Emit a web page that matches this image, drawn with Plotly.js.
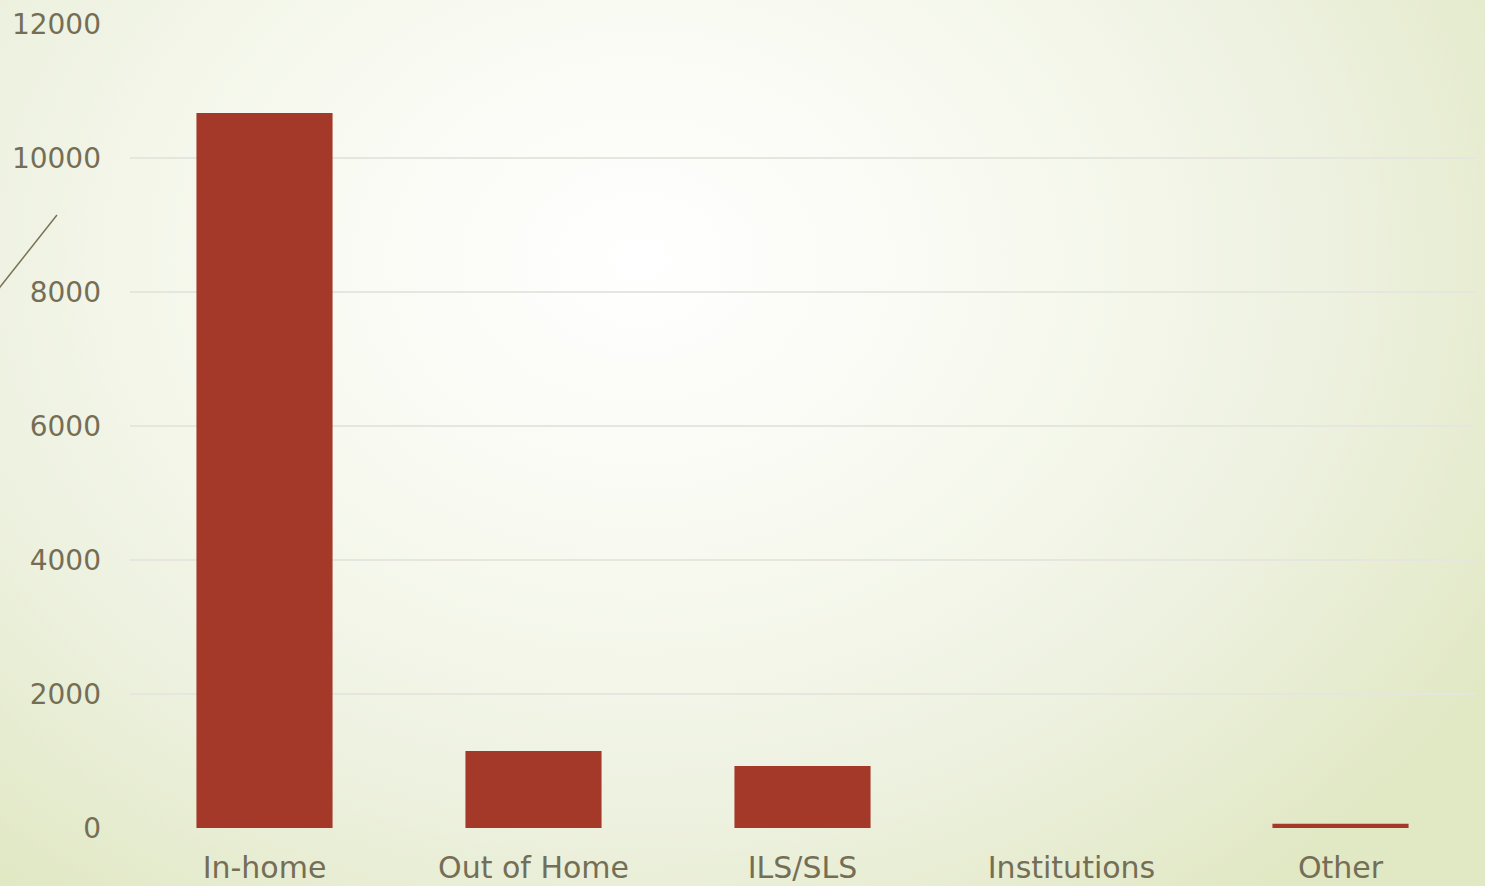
<!DOCTYPE html>
<html>
<head>
<meta charset="utf-8">
<script src="https://cdn.plot.ly/plotly-3.0.1.min.js"></script>
<style>
  html, body { margin: 0; padding: 0; width: 1485px; height: 886px; overflow: hidden; }
  body { background: radial-gradient(ellipse 1000px 800px at 640px 260px, #ffffff 0%, #f7f9ef 40%, #edf1df 70%, #e1e8c4 100%); }
  #chart { width: 1485px; height: 886px; }
</style>
</head>
<body>
<div id="chart"></div>
<script>
const categories = ["In-home", "Out of Home", "ILS/SLS", "Institutions", "Other"];
const counts = [10670, 1150, 925, 0, 65];
const yTicks = [0, 2000, 4000, 6000, 8000, 10000, 12000];

const textColor = "#756e56";
const fontFam = "'DejaVu Sans', 'Open Sans', sans-serif";

const trace = {
  type: "bar",
  x: categories,
  y: counts,
  marker: { color: "#a4392a", line: { width: 0 } },
  hoverinfo: "x+y"
};

const layout = {
  width: 1485, height: 886,
  margin: { l: 130, r: 10, t: 24, b: 58 },
  paper_bgcolor: "rgba(0,0,0,0)",
  plot_bgcolor: "rgba(0,0,0,0)",
  bargap: 0.494,
  showlegend: false,
  font: { family: fontFam, color: textColor, size: 28 },
  xaxis: {
    type: "category",
    showgrid: false, zeroline: false, showline: false,
    ticks: "",
    ticklabelstandoff: 19,
    tickfont: { family: fontFam, size: 30, color: textColor }
  },
  yaxis: {
    range: [0, 12000],
    tickvals: yTicks,
    ticktext: yTicks.map(String),
    showgrid: true, gridcolor: "#e7e6de", gridwidth: 2,
    zeroline: false, showline: false,
    ticks: "",
    ticklabelstandoff: 28,
    tickfont: { family: fontFam, size: 28, color: textColor }
  },
  shapes: [{
    type: "line", xref: "paper", yref: "paper",
    x0: -0.0985, y0: 0.669, x1: -0.0543, y1: 0.7624,
    line: { color: "#7a7256", width: 1.5 }
  }]
};

Plotly.newPlot("chart", [trace], layout, { displayModeBar: false });
</script>
</body>
</html>
